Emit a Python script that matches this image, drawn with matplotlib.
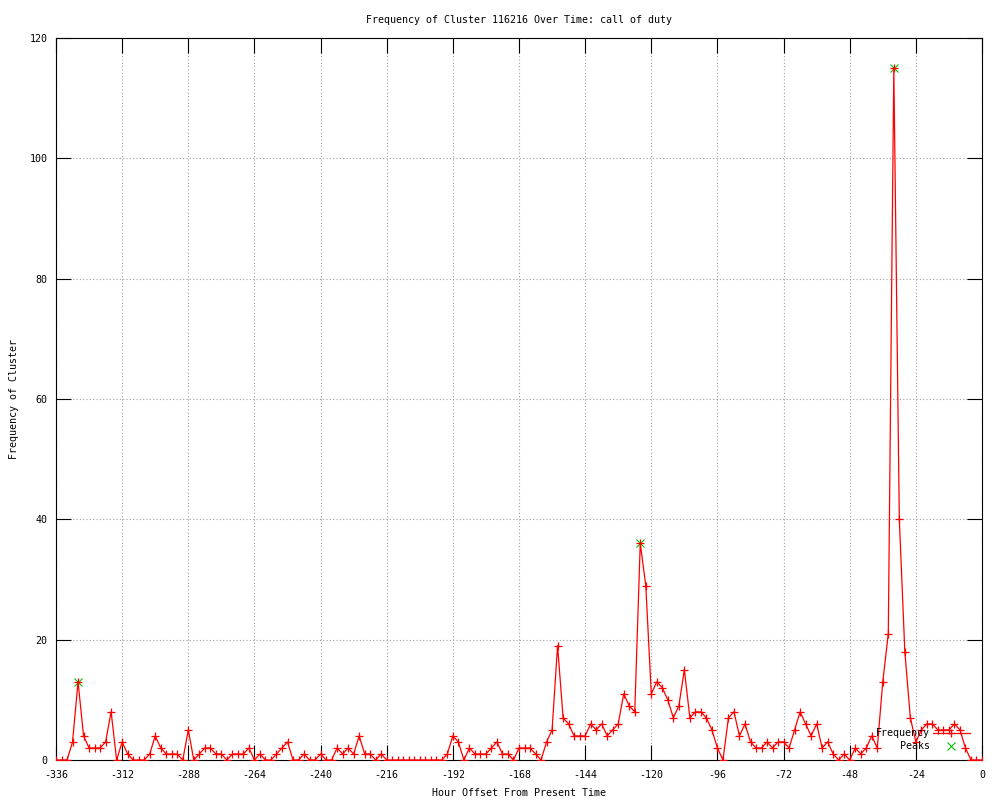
import matplotlib
matplotlib.use('Agg')
import matplotlib.pyplot as plt

# hours before now, one sample every 2 hours
hours = list(range(-336, 1, 2))
freq = [0, 0, 0, 3, 13, 4, 2, 2, 2, 3, 8, 0, 3, 1, 0, 0, 0, 1, 4, 2,
        1, 1, 1, 0, 5, 0, 1, 2, 2, 1, 1, 0, 1, 1, 1, 2, 0, 1, 0, 0,
        1, 2, 3, 0, 0, 1, 0, 0, 1, 0, 0, 2, 1, 2, 1, 4, 1, 1, 0, 1,
        0, 0, 0, 0, 0, 0, 0, 0, 0, 0, 0, 1, 4, 3, 0, 2, 1, 1, 1, 2,
        3, 1, 1, 0, 2, 2, 2, 1, 0, 3, 5, 19, 7, 6, 4, 4, 4, 6, 5, 6,
        4, 5, 6, 11, 9, 8, 36, 29, 11, 13, 12, 10, 7, 9, 15, 7, 8, 8, 7, 5,
        2, 0, 7, 8, 4, 6, 3, 2, 2, 3, 2, 3, 3, 2, 5, 8, 6, 4, 6, 2,
        3, 1, 0, 1, 0, 2, 1, 2, 4, 2, 13, 21, 115, 40, 18, 7, 3, 5, 6, 6,
        5, 5, 5, 6, 5, 2, 0, 0, 0]
peak_hours = [-328, -124, -32]
peak_vals = [13, 36, 115]

plt.rcParams['font.family'] = ['DejaVu Sans Mono']
plt.rcParams['font.size'] = 7.2
plt.rcParams['axes.unicode_minus'] = False

fig = plt.figure(figsize=(10, 8), dpi=100)
ax = fig.add_axes([0.056, 0.05, 0.926, 0.9025])

ax.plot(peak_hours, peak_vals, linestyle='none', marker='x', color='#00c000',
        markersize=6, markeredgewidth=0.8, label='Peaks', zorder=3)
ax.plot(hours, freq, color='red', linewidth=0.9, marker='+', markersize=6,
        markeredgewidth=0.9, label='Frequency', zorder=4)

ax.set_xlim(-336, 0)
ax.set_ylim(0, 120)
ax.set_xticks(range(-336, 1, 24))
ax.set_yticks(range(0, 121, 20))
ax.tick_params(direction='in', length=11, width=0.8, top=True, right=True,
               labelsize=7.2)
ax.tick_params(axis='x', pad=7)
ax.tick_params(axis='y', pad=6)
ax.grid(True, color='#a0a0a0', linestyle=(0, (1, 2)), linewidth=0.8)
ax.set_axisbelow(True)
for s in ax.spines.values():
    s.set_linewidth(0.8)

ax.set_title('Frequency of Cluster 116216 Over Time: call of duty', pad=11,
             fontsize=7.2)
ax.set_xlabel('Hour Offset From Present Time', labelpad=6)
ax.set_ylabel('Frequency of Cluster', labelpad=8)

h, l = ax.get_legend_handles_labels()
ax.legend(h[::-1], l[::-1], loc='lower right', bbox_to_anchor=(0.987, 0.012),
          frameon=False, markerfirst=False, handlelength=3.7,
          handletextpad=0.3, labelspacing=0.3, borderpad=0, borderaxespad=0,
          fontsize=7.2)

fig.savefig('out.png', dpi=100)
